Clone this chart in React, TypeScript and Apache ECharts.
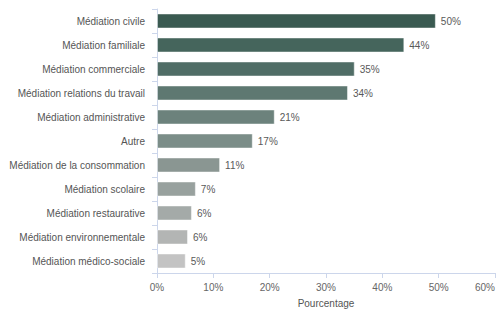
import React, { useEffect, useRef } from "react";
import * as echarts from "echarts";

const categories = [
  "Médiation civile",
  "Médiation familiale",
  "Médiation commerciale",
  "Médiation relations du travail",
  "Médiation administrative",
  "Autre",
  "Médiation de la consommation",
  "Médiation scolaire",
  "Médiation restaurative",
  "Médiation environnementale",
  "Médiation médico-sociale",
];

const values = [49.5, 43.9, 35.1, 33.9, 20.9, 17.0, 11.2, 6.9, 6.2, 5.5, 5.1];

const barColors = [
  "#3a5a51",
  "#45655c",
  "#506d66",
  "#5e7871",
  "#6c827c",
  "#7b8d88",
  "#8a9692",
  "#98a19e",
  "#a4aaa8",
  "#b3b5b4",
  "#c3c3c3",
];

const xTicks = [0, 10, 20, 30, 40, 50, 60];

export default function App() {
  const ref = useRef<HTMLDivElement>(null);
  useEffect(() => {
    if (!ref.current) return;
    const chart = echarts.init(ref.current, undefined, { renderer: "svg" });
    const font = "'Liberation Sans', Arial, Helvetica, sans-serif";
    chart.setOption({
      animation: false,
      textStyle: { fontFamily: font },
      grid: { left: 157, right: 1, top: 9, bottom: 38, containLabel: false },
      xAxis: {
        type: "value",
        min: xTicks[0],
        max: xTicks[xTicks.length - 1],
        interval: 10,
        name: "Pourcentage",
        nameLocation: "middle",
        nameGap: 25,
        nameTextStyle: { color: "#555", fontSize: 10, fontFamily: font },
        axisLine: { show: true, lineStyle: { color: "#ccd6eb", width: 1 } },
        axisTick: { show: true, length: 5, lineStyle: { color: "#ccd6eb" } },
        splitLine: { show: false },
        axisLabel: {
          color: "#666",
          fontSize: 10,
          margin: 9,
          fontFamily: font,
          formatter: (v: number) => `${v}%`,
          alignMaxLabel: "right",
        },
      },
      yAxis: {
        type: "category",
        data: categories,
        inverse: true,
        axisLine: { show: true, lineStyle: { color: "#ccd6eb", width: 1 } },
        axisTick: { show: true, length: 5, lineStyle: { color: "#ccd6eb" } },
        axisLabel: { color: "#555", fontSize: 10, margin: 12, fontFamily: font },
      },
      series: [
        {
          type: "bar",
          barWidth: 15,
          data: values.map((v, i) => ({
            value: v,
            itemStyle: {
              color: barColors[i],
              borderColor: "rgba(255,255,255,0.45)",
              borderWidth: 1,
            },
          })),
          label: {
            show: true,
            position: "right",
            distance: 5,
            color: "#595959",
            fontSize: 10,
            fontFamily: font,
            formatter: (p: any) => `${Math.round(p.value)}%`,
          },
        },
      ],
    });
    return () => chart.dispose();
  }, []);
  return (
    <div
      ref={ref}
      style={{ position: "fixed", left: 0, top: 0, width: 498, height: 313, background: "#fff" }}
    />
  );
}
